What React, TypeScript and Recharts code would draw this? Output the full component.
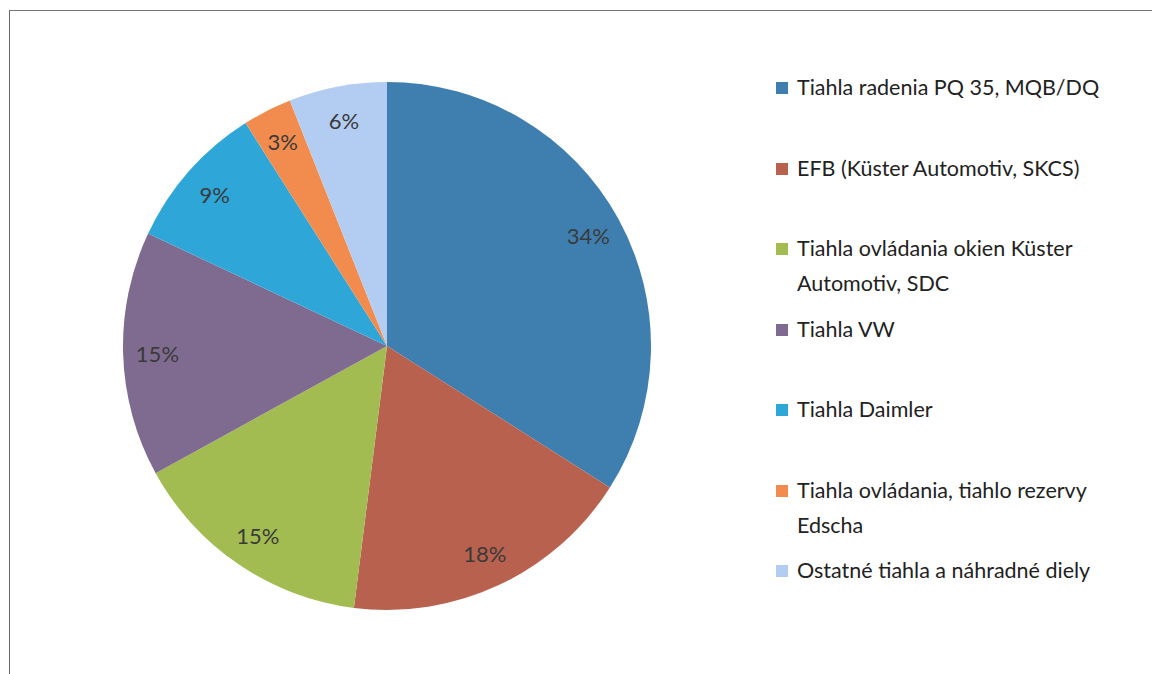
import { PieChart, Pie, Cell } from 'recharts';

// Podiel skupín tiahel (%)
const categories = [
  'Tiahla radenia PQ 35, MQB/DQ',
  'EFB (Küster Automotiv, SKCS)',
  'Tiahla ovládania okien Küster Automotiv, SDC',
  'Tiahla VW',
  'Tiahla Daimler',
  'Tiahla ovládania, tiahlo rezervy Edscha',
  'Ostatné tiahla a náhradné diely',
];
const shares = [34, 18, 15, 15, 9, 3, 6];
const colors = ['#3f7fb0', '#b8614f', '#a2bc52', '#7f6b90', '#2ea6d8', '#f28c4e', '#b3cdf2'];

const data = categories.map((name, i) => ({ name, value: shares[i] }));

const RAD = Math.PI / 180;
const FONT = 'Lato, "Open Sans", sans-serif';

const renderLabel = (props: any) => {
  const { cx, cy, midAngle, outerRadius, value } = props;
  const r = outerRadius * 0.87;
  const x = cx + r * Math.cos(-midAngle * RAD);
  const y = cy + r * Math.sin(-midAngle * RAD);
  return (
    <text
      x={x}
      y={y}
      fill="#3a3a3a"
      fontSize={22}
      fontFamily={FONT}
      textAnchor="middle"
      dominantBaseline="central"
    >
      {value}%
    </text>
  );
};

function LegendBox() {
  return (
    <div style={{ position: 'absolute', left: 776, top: 70, width: 376, fontFamily: FONT }}>
      {data.map((d, i) => (
        <div
          key={d.name}
          style={{
            position: 'absolute',
            top: i * 80.5,
            left: 0,
            width: 366,
            display: 'flex',
            alignItems: 'flex-start',
            fontSize: 21.5,
            lineHeight: '35px',
            color: '#222',
          }}
        >
          <span
            style={{
              display: 'inline-block',
              width: 12,
              height: 12,
              marginTop: 12,
              marginRight: 9,
              flexShrink: 0,
              background: colors[i],
            }}
          />
          <span>{d.name}</span>
        </div>
      ))}
    </div>
  );
}

export default function App() {
  return (
    <div style={{ position: 'absolute', left: 0, top: 0, width: 1152, height: 674, background: '#fff', overflow: 'hidden' }}>
      {/* okraj skenu */}
      <div style={{ position: 'absolute', left: 9, top: 10, width: 1143, height: 664, borderTop: '1px solid #777', borderLeft: '1px solid #666' }} />
      <div style={{ position: 'absolute', left: 0, top: 0 }}>
        <PieChart width={780} height={674} margin={{ top: 0, right: 0, bottom: 0, left: 0 }}>
          <Pie
            data={data}
            dataKey="value"
            nameKey="name"
            cx={387}
            cy={346}
            outerRadius={264}
            startAngle={90}
            endAngle={-270}
            stroke="none"
            label={renderLabel}
            labelLine={false}
            isAnimationActive={false}
          >
            {data.map((d, i) => (
              <Cell key={d.name} fill={colors[i]} />
            ))}
          </Pie>
        </PieChart>
      </div>
      <LegendBox />
    </div>
  );
}
